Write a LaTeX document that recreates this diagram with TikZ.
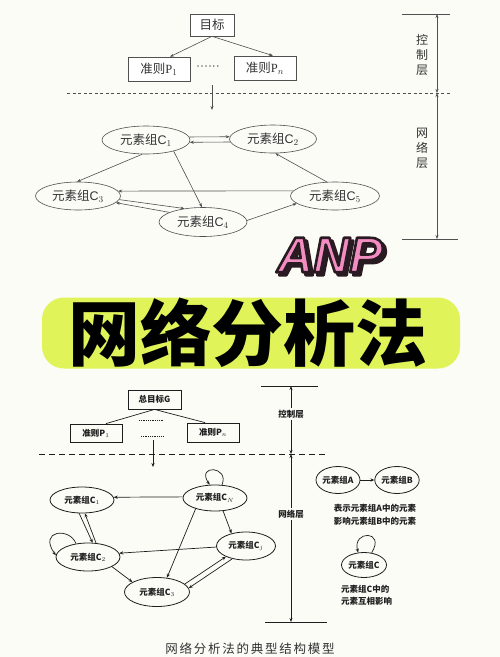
\documentclass[tikz,border=0pt]{standalone}
\usepackage{fontspec}
\setmainfont{Liberation Serif}
\newfontfamily\cjk{Noto Sans CJK SC}
\newfontfamily\cjkcap[LetterSpace=14]{Noto Sans CJK SC}
\newfontfamily\lsans{Liberation Sans}
\usetikzlibrary{arrows.meta,shapes.geometric,calc}
\definecolor{bgc}{HTML}{FBFCF6}
\definecolor{lime}{HTML}{E0F45A}
\definecolor{pinkt}{HTML}{F28DC2}
\definecolor{outl}{HTML}{2A1A22}
\definecolor{gline}{HTML}{505050}
\definecolor{gtext}{HTML}{333333}
\definecolor{btext}{HTML}{1E1E1E}
\newcommand\outlinetext[1]{\special{pdf:literal direct 0.165 0.102 0.133 RG 2.6 w 1 j 2 Tr}#1\special{pdf:literal direct 0 Tr}}
\begin{document}
\begin{tikzpicture}[x=1pt,y=-1pt,
  tarr/.style={-{Stealth[length=4pt,width=3pt]}},
  barr/.style={-{Stealth[length=4pt,width=3.2pt]}},
  topbox/.style={draw=gline,line width=0.6pt,fill=white,text=gtext,inner sep=0pt,font=\cjk\fontsize{12.5}{14}\selectfont},
  topell/.style={draw=gline,line width=0.6pt,ellipse,inner sep=0pt,text=gtext,font=\cjk\fontsize{12.5}{14}\selectfont},
  botbox/.style={draw=btext,line width=0.8pt,inner sep=0pt,text=btext,font=\cjk\bfseries\fontsize{8.5}{10}\selectfont},
  botell/.style={draw=btext,line width=0.8pt,ellipse,inner sep=0pt,text=btext,font=\cjk\bfseries\fontsize{8.5}{10}\selectfont},
  bottxt/.style={text=btext,inner sep=0pt,font=\cjk\bfseries\fontsize{8.5}{10}\selectfont},
  vtxt/.style={text=gtext,inner sep=0pt,align=center,font=\cjk\fontsize{12}{15}\selectfont},
  anpfont/.style={inner sep=0pt,font=\lsans\bfseries\itshape\fontsize{50}{50}\selectfont},
  ]
\useasboundingbox (0,0) rectangle (500,657);
\fill[bgc] (0,0) rectangle (500,657);

% ===== Top diagram =====
\node[topbox,minimum width=44pt,minimum height=22pt] (goal) at (212,25) {目标};
\node[topbox,minimum width=62pt,minimum height=24pt] (P1) at (159,69) {准则{\rmfamily P$_1$}};
\node[text=gtext,inner sep=0pt,font=\fontsize{12}{14}\selectfont] (dots) at (208,68.5) {\textperiodcentered\textperiodcentered\textperiodcentered\textperiodcentered\textperiodcentered\textperiodcentered};
\node[topbox,minimum width=62pt,minimum height=24pt] (Pn) at (265,68) {准则{\rmfamily P$_n$}};
\draw[tarr,gline,line width=0.6pt] (goal.south) -- ($(P1.north)+(11,0)$);
\draw[tarr,gline,line width=0.6pt] (goal.south) -- ($(Pn.north)+(8,0)$);
\draw[gline,line width=0.6pt,dash pattern=on 3pt off 2.5pt] (67,93) -- (450,93);
\coordinate (da) at (212,85);
\coordinate (db) at (212,110);
\draw[tarr,gline,line width=0.6pt] (da) -- (db);

\node[topell,minimum width=88pt,minimum height=28pt] (C1) at (146,140) {元素组{\lsans C$_1$}};
\node[topell,minimum width=87pt,minimum height=28pt] (C2) at (273,139) {元素组{\lsans C$_2$}};
\node[topell,minimum width=85pt,minimum height=28pt] (C3) at (78,196) {元素组{\lsans C$_3$}};
\node[topell,minimum width=88pt,minimum height=29pt] (C4) at (203,222) {元素组{\lsans C$_4$}};
\node[topell,minimum width=89pt,minimum height=28pt] (C5) at (335,196) {元素组{\lsans C$_5$}};

\begin{scope}[gline,line width=0.6pt]
\draw[tarr] (C1.4) -- (C2.177);
\draw[tarr] (C2.184) -- (C1.357);
\draw[tarr] (C1.255) -- (C3.94);
\draw[tarr] (C1.-22) -- (C4.94);
\draw[tarr] (C5.120) -- (C2.-81);
\draw[tarr] (C5.173) -- (C3.7);
\draw[tarr] (C3.355) -- (C4.144);
\draw[tarr] (C4.164) -- (C3.350);
\draw[tarr] (C4.2) -- (C5.191);
\end{scope}

% right scale top
\coordinate (t1) at (437,14);
\coordinate (t2) at (437,93);
\coordinate (t3) at (437,239);
\coordinate (t1a) at (402,14); \coordinate (t1b) at (450,14);
\coordinate (t3a) at (402,239); \coordinate (t3b) at (458,239);
\draw[gline,line width=0.6pt] (t1a) -- (t1b);
\draw[gline,line width=0.6pt] (t3a) -- (t3b);
\draw[gline,line width=0.6pt,{Stealth[length=4pt,width=3pt]}-{Stealth[length=4pt,width=3pt]}] (t1) -- (t2);
\draw[gline,line width=0.6pt,{Stealth[length=4pt,width=3pt]}-{Stealth[length=4pt,width=3pt]}] (t2) -- (t3);
\node[vtxt] (lk) at (422,55) {控\\制\\层};
\node[vtxt] (ln) at (422,148) {网\\络\\层};

% ===== ANP title =====
\node[anpfont,text=outl] (anpsh) at (333,258) {\outlinetext{ANP}};
\node[anpfont,text=pinkt] (anp) at (330,255) {\outlinetext{ANP}};

% ===== lime banner =====
\node[fill=lime,rounded corners=22pt,minimum width=418pt,minimum height=71pt,inner sep=0pt] (banner) at (251,333) {};
\node[text=black,inner sep=0pt,font=\cjk\bfseries\fontsize{72}{72}\selectfont] (btitle) at (248,333) {网络分析法};

% ===== Bottom diagram =====
\node[botbox,minimum width=53pt,minimum height=19pt] (G) at (154.5,399.5) {总目标G};
\node[botbox,minimum width=52pt,minimum height=18pt] (Q1) at (96,433) {准则P$_1$};
\node[botbox,minimum width=52pt,minimum height=19pt] (Qn) at (213,432.5) {准则P$_n$};
\draw[btext,line width=0.7pt] (G.south) -- ($(Q1.north)+(10,0)$);
\draw[btext,line width=0.7pt] (G.south) -- ($(Qn.north)+(-8,0)$);
\coordinate (k1) at (139,420); \coordinate (k2) at (163,420);
\coordinate (k3) at (141,436); \coordinate (k4) at (164,436);
\draw[btext,line width=0.5pt,dash pattern=on 1pt off 0.8pt] (k1) -- (k2);
\draw[btext,line width=0.5pt,dash pattern=on 1pt off 0.8pt] (k3) -- (k4);
\coordinate (ea) at (153,440); \coordinate (eb) at (153,467);
\draw[barr,btext,line width=0.7pt] (ea) -- (eb);
\draw[btext,line width=1pt,dash pattern=on 6pt off 4pt] (39,454) -- (328,454);

\node[botell,minimum width=64pt,minimum height=26pt] (B1) at (82,500) {元素组C$_1$};
\node[botell,minimum width=64pt,minimum height=26pt] (BN) at (215,498) {元素组C$_N$};
\node[botell,minimum width=59pt,minimum height=28pt] (Bj) at (246,546) {元素组C$_j$};
\node[botell,minimum width=64pt,minimum height=28pt] (B2) at (88,557) {元素组C$_2$};
\node[botell,minimum width=65pt,minimum height=29pt] (B3) at (157,592) {元素组C$_3$};

\begin{scope}[btext,line width=0.7pt]
\draw[barr] (BN.178) -- (B1.5);
\draw[barr] (B1.258) -- (B2.72);
\draw[barr] (B2.60) -- (B1.282);
\draw[barr] (BN.-58) -- (Bj.139);
\draw[barr] (BN.209) -- (B3.55);
\draw[barr] (Bj.182) -- (B2.7);
\draw[barr] (B2.-22) -- (B3.158);
\draw[barr] (B3.16) -- (Bj.208);
\draw[barr] (Bj.223) -- (B3.7);
\draw[barr] (BN.62) .. controls (230,466) and (196,464) .. (BN.112);
\draw[barr] (B2.132) .. controls (70,527) and (38,530) .. (B2.177);
\end{scope}

% right scale bottom
\coordinate (s1) at (291,386);
\coordinate (s2) at (291,454);
\coordinate (s3) at (291,622);
\coordinate (s1a) at (261,386); \coordinate (s1b) at (318,386);
\coordinate (s3a) at (265,622); \coordinate (s3b) at (327,622);
\draw[btext,line width=0.7pt] (s1a) -- (s1b);
\draw[btext,line width=0.7pt] (s3a) -- (s3b);
\draw[btext,line width=0.7pt,{Stealth[length=4pt,width=3pt]}-{Stealth[length=4pt,width=3pt]}] (s1) -- (s2);
\draw[btext,line width=0.7pt,{Stealth[length=4pt,width=3pt]}-{Stealth[length=4pt,width=3pt]}] (s2) -- (s3);
\node[bottxt,fill=bgc,inner sep=1.5pt] (mk) at (291,414) {控制层};
\node[bottxt,fill=bgc,inner sep=1.5pt] (mn) at (291,514) {网络层};

% legend
\node[botell,minimum width=42pt,minimum height=27pt] (LA) at (338,480) {元素组A};
\node[botell,minimum width=42pt,minimum height=27pt] (LB) at (397,480) {元素组B};
\draw[barr,btext,line width=0.7pt] (LA.east) -- (LB.west);
\node[bottxt,align=center] (lt1) at (375,514.5) {表示元素组A中的元素\\[2.5pt]影响元素组B中的元素};
\node[botell,minimum width=45pt,minimum height=25pt] (LC) at (364,565) {元素组C};
\draw[barr,btext,line width=0.7pt] (LC.58) .. controls (386,530) and (352,530) .. (LC.115);
\node[bottxt,align=left,anchor=west] (lt2) at (341,595) {元素组C中的\\[2.5pt]元素互相影响};

\node[text=gtext,inner sep=0pt,font=\cjkcap\fontsize{12.5}{14}\selectfont] (cap) at (250,649) {网络分析法的典型结构模型};
\end{tikzpicture}
\end{document}
